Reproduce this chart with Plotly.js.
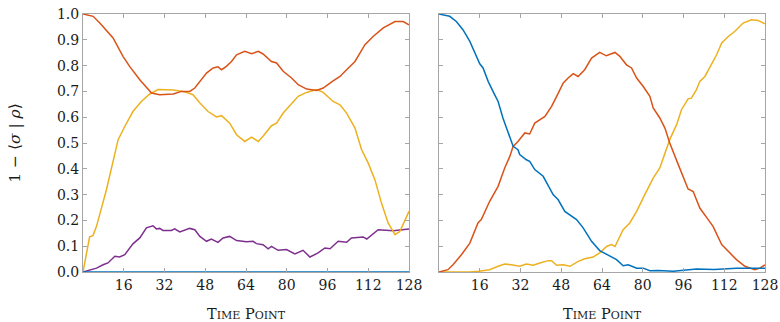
<!DOCTYPE html>
<html>
<head>
<meta charset="utf-8">
<script src="https://cdn.plot.ly/plotly-3.0.1.min.js"></script>
<style>html,body{margin:0;padding:0;background:#fff;}#chart{width:780px;height:322px;}</style>
</head>
<body>
<div id="chart"></div>
<script>
// ---- Left panel ----
const leftRedT = [0,4,6.6,11.8,15.7,18.3,22.3,26.9,30.1,35.4,38.7,41.9,43.9,45.9,48.5,51.1,53,54.4,56.3,58.3,60.3,63.5,66.2,68.8,70.7,74,76,78.6,81.9,84.5,87.8,91.7,94.3,98.2,100.9,103.5,106.8,110.7,113.9,117.9,122.5,125.7,128];
const leftRedV = [1.0,0.991,0.965,0.907,0.836,0.797,0.745,0.694,0.687,0.69,0.70,0.70,0.713,0.739,0.771,0.791,0.795,0.784,0.797,0.816,0.842,0.855,0.846,0.855,0.845,0.816,0.81,0.778,0.752,0.726,0.709,0.704,0.713,0.741,0.758,0.784,0.816,0.881,0.913,0.946,0.971,0.971,0.958];

const leftYellowT = [0,2.6,3.9,5.3,9.2,11.8,13.8,16.4,19.6,22.9,26.2,29.5,35.4,39.3,43.2,45.9,49.1,52.4,54.4,57.6,60.3,63.5,66.2,68.8,70.7,74,76,78.6,81.9,84.5,87.8,91.7,94.3,98.2,100.9,103.5,106.8,109.4,112,114.6,117.2,119.8,122.5,124.4,128];
const leftYellowV = [0,0.136,0.141,0.177,0.319,0.435,0.513,0.564,0.622,0.661,0.690,0.707,0.705,0.70,0.687,0.655,0.622,0.601,0.606,0.577,0.532,0.506,0.523,0.506,0.526,0.567,0.577,0.616,0.652,0.681,0.696,0.707,0.696,0.661,0.648,0.616,0.558,0.474,0.422,0.358,0.267,0.19,0.145,0.157,0.235];

const leftPurpleT = [0,5.3,7.9,9.8,12.5,14.4,16.4,19.6,22.3,24.9,27.5,28.8,30.1,31.4,34.7,36,38,39.9,41.9,43.9,45.9,48.5,50.4,53,55,57.6,60.3,64.2,66.8,68.1,70.7,72.7,74,76.6,79.9,83.2,86.4,89.1,92.3,95,97,100.2,103.5,105.4,110,111.4,115.9,121.8,128];
const leftPurpleV = [0,0.015,0.028,0.035,0.061,0.058,0.067,0.109,0.132,0.171,0.179,0.167,0.169,0.161,0.161,0.167,0.155,0.161,0.169,0.164,0.138,0.119,0.128,0.115,0.132,0.138,0.122,0.117,0.119,0.110,0.106,0.090,0.099,0.084,0.087,0.070,0.084,0.058,0.074,0.093,0.09,0.119,0.115,0.132,0.136,0.128,0.164,0.16,0.167];

const leftBlueT = [0,128];
const leftBlueV = [0,0];

// ---- Right panel ----
const rightBlueT = [0,4.2,6.8,9.4,12.1,14,16,17.3,19.3,21.2,23.2,25.1,27.1,29.1,31,31.7,34.3,35.6,37.6,40.9,44.8,46.8,49.4,52,54,56.6,59.9,63.1,67.4,69.7,72.3,74.3,77.6,80.2,82.8,86.1,92,101.1,108,116.8,128];
const rightBlueV = [1,0.991,0.971,0.939,0.894,0.849,0.807,0.791,0.739,0.70,0.661,0.597,0.539,0.487,0.474,0.455,0.435,0.429,0.397,0.371,0.30,0.28,0.235,0.216,0.203,0.171,0.119,0.083,0.06,0.048,0.024,0.028,0.015,0.015,0.005,0.006,0.003,0.012,0.01,0.015,0.015];

const rightRedT = [0,3.5,5.5,8.8,12.1,15.3,16.6,19.9,23.2,25.8,27.8,29.1,31,33.7,35.6,37.6,41.6,44.2,46.2,48.8,50.7,52.7,54.6,57.2,59.9,63.1,65.7,69.1,71,73.6,75.6,77.6,80.2,82.8,84.1,86.7,88.7,90.6,93.6,95.9,97.8,99.8,102.4,105.7,107.6,111,113.6,116.8,120.1,124,126,128];
const rightRedV = [0,0.009,0.028,0.067,0.112,0.19,0.203,0.274,0.332,0.403,0.448,0.487,0.506,0.539,0.535,0.577,0.603,0.642,0.681,0.733,0.752,0.769,0.758,0.784,0.829,0.851,0.838,0.851,0.836,0.803,0.791,0.752,0.719,0.681,0.636,0.597,0.558,0.50,0.425,0.371,0.322,0.312,0.248,0.203,0.177,0.106,0.08,0.048,0.022,0.009,0.015,0.028];

const rightYellowT = [0,12,15.7,19.9,23.2,25.8,28.4,31.7,34.3,37,39.6,42.9,44.2,46.2,48.8,51.4,54.7,57.2,60.5,63.1,65.8,67.7,69.1,72.3,74.9,77.6,80.8,84.1,86.7,88.3,90.6,93.3,95.2,97.8,99.1,101.1,102.4,104.4,107,109,111,113.6,116.2,119.4,122.7,125.3,128];
const rightYellowV = [0,0,0.003,0.009,0.022,0.031,0.028,0.022,0.031,0.026,0.035,0.044,0.044,0.026,0.028,0.022,0.041,0.051,0.058,0.074,0.099,0.106,0.099,0.164,0.19,0.235,0.30,0.364,0.403,0.45,0.513,0.571,0.629,0.671,0.674,0.707,0.739,0.758,0.803,0.842,0.888,0.913,0.933,0.965,0.978,0.975,0.962];

const xTicks = [16,32,48,64,80,96,112,128];
const yTicks = [0,0.1,0.2,0.3,0.4,0.5,0.6,0.7,0.8,0.9,1.0];

const C = {blue:'#0072BD', red:'#D95319', yellow:'#EDB120', purple:'#7E2F8E'};
const LW = 1.5;

function tr(x, y, color, xa, ya) {
  return {x:x, y:y, type:'scatter', mode:'lines', line:{color:color, width:LW}, xaxis:xa, yaxis:ya, hoverinfo:'skip', showlegend:false};
}

const data = [
  tr(leftPurpleT, leftPurpleV, C.purple, 'x', 'y'),
  tr(leftYellowT, leftYellowV, C.yellow, 'x', 'y'),
  tr(leftRedT, leftRedV, C.red, 'x', 'y'),
  tr(leftBlueT, leftBlueV, C.blue, 'x', 'y'),
  tr(rightYellowT, rightYellowV, C.yellow, 'x2', 'y2'),
  tr(rightRedT, rightRedV, C.red, 'x2', 'y2'),
  tr(rightBlueT, rightBlueV, C.blue, 'x2', 'y2')
];

const FONT = '"DejaVu Serif", "Liberation Serif", serif';
const TXT = '#1a1a1a';
const axisCommon = {
  showline:true, linecolor:'#a6a6a6', linewidth:1, mirror:'ticks',
  ticks:'inside', ticklen:4, tickcolor:'#a6a6a6', tickwidth:1,
  showgrid:false, zeroline:false,
  tickfont:{family:FONT, size:14, color:TXT}
};
const xTitle = {text:"T<span style='font-size:11px'>IME</span> P<span style='font-size:11px'>OINT</span>", font:{family:FONT, size:14.5, color:TXT}, standoff:20};

const layout = {
  width:780, height:322,
  margin:{l:83, r:15, t:14, b:50},
  paper_bgcolor:'#ffffff', plot_bgcolor:'#ffffff',
  xaxis: Object.assign({}, axisCommon, {domain:[0,0.478], range:[0,128], tickvals:xTicks, ticktext:xTicks.map(String), anchor:'y', title:xTitle}),
  yaxis: Object.assign({}, axisCommon, {range:[0,1], tickvals:yTicks, tickformat:'.1f', anchor:'x',
    title:{text:"1 − ⟨<i>σ</i> | <i>ρ</i>⟩", font:{family:FONT, size:15.5, color:TXT}, standoff:32}}),
  xaxis2: Object.assign({}, axisCommon, {domain:[0.522,1], range:[0,128], tickvals:xTicks, ticktext:xTicks.map(String), anchor:'y2', title:xTitle}),
  yaxis2: Object.assign({}, axisCommon, {range:[0,1], tickvals:yTicks, showticklabels:false, anchor:'x2'})
};

Plotly.newPlot('chart', data, layout, {displayModeBar:false, staticPlot:true});
</script>
</body>
</html>
